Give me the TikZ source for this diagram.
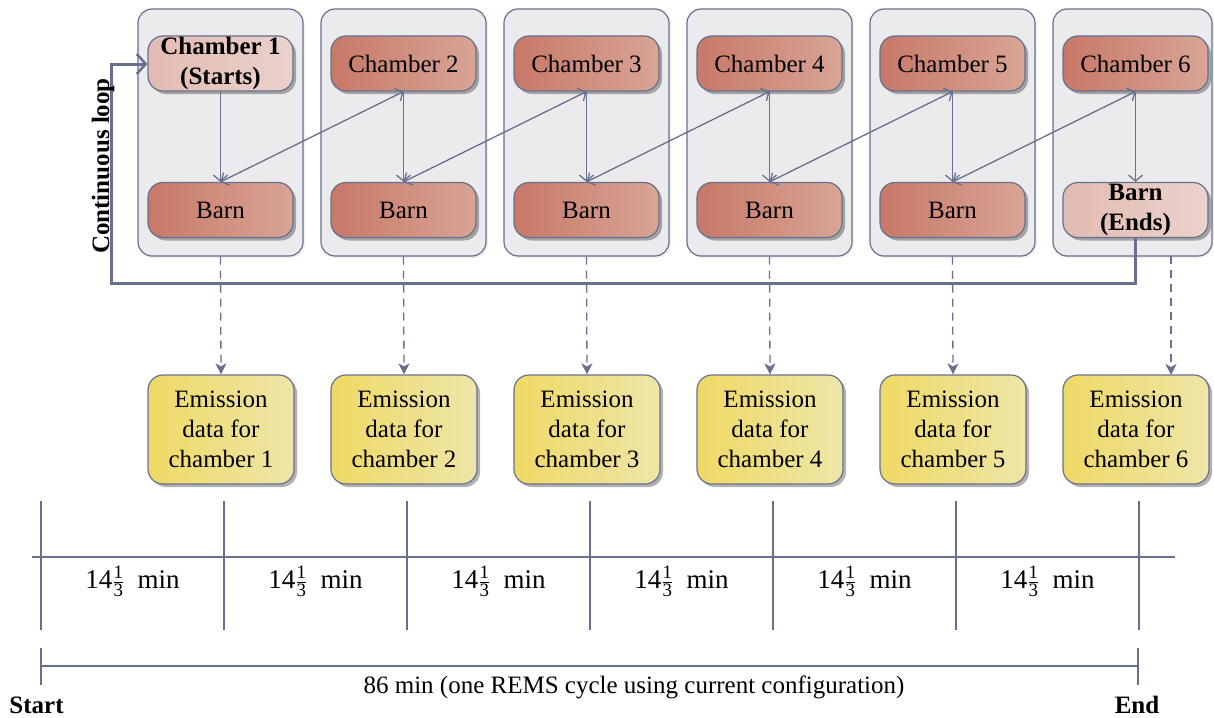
\documentclass[tikz,border=0pt]{standalone}
\usepackage{fontspec}
\setmainfont{LiberationSerif}[Extension=.ttf, UprightFont=*-Regular, BoldFont=*-Bold, ItalicFont=*-Italic, BoldItalicFont=*-BoldItalic]
\usetikzlibrary{arrows.meta,shadows,calc}
\definecolor{linec}{HTML}{67708F}
\definecolor{grpfill}{HTML}{EBEAEC}
\definecolor{chamA}{HTML}{C87868}
\definecolor{chamB}{HTML}{D8A596}
\definecolor{lightA}{HTML}{E2BBB2}
\definecolor{lightB}{HTML}{EAD2CC}
\definecolor{emA}{HTML}{EFD965}
\definecolor{emB}{HTML}{EDE6A8}
\begin{document}
\begin{tikzpicture}[x=1pt,y=-1pt,
  every node/.style={font=\fontsize{25}{30}\selectfont, align=center, inner sep=0pt},
  grp/.style={draw=linec, line width=1.2pt, rounded corners=14pt, fill=grpfill,
    minimum width=165pt, minimum height=247pt,
    drop shadow={shadow xshift=2pt,shadow yshift=-2pt,opacity=0.12}},
  chbox/.style={draw=linec, line width=1.2pt, rounded corners=15pt,
    left color=chamA, right color=chamB, minimum width=145pt, minimum height=55pt,
    drop shadow={shadow xshift=3pt,shadow yshift=-3pt,opacity=0.3,fill=black}},
  lightbox/.style={chbox, left color=lightA, right color=lightB,
    font=\fontsize{25}{30}\selectfont\bfseries},
  embox/.style={draw=linec, line width=1.2pt, rounded corners=15pt,
    left color=emA, right color=emB, minimum width=146pt, minimum height=109pt,
    drop shadow={shadow xshift=3pt,shadow yshift=-3pt,opacity=0.3,fill=black}},
  conn/.style={draw=linec, line width=1.3pt},
  vtip/.style={-{Straight Barb[length=6pt,width=14pt]}},
  bitip/.style={{Straight Barb[length=6pt,width=14pt]}-{Straight Barb[length=6pt,width=14pt]}},
  dasharr/.style={draw=linec, line width=1.3pt, dash pattern=on 8pt off 6pt,
    -{Stealth[length=11pt,width=11pt,inset=3pt]}},
  loopline/.style={draw=linec, line width=3pt,
    -{Straight Barb[length=9pt,width=20pt,line width=2.5pt]}},
  tl/.style={draw=linec, line width=1.4pt},
  bold/.style={font=\fontsize{25}{30}\selectfont\bfseries},
  minlab/.style={font=\fontsize{27}{30}\selectfont}
]
\useasboundingbox (0,0) rectangle (1214,717);

% groups
\foreach \i in {1,...,5} {
  \node[grp] (g\i) at ({220.5+183*(\i-1)},132.5) {};
}
\node[grp, minimum width=159pt] (g6) at (1132.5,132.5) {};

% chambers and barns
\node[lightbox] (c1) at (220.5,63.5) {Chamber 1\\(Starts)};
\foreach \i in {2,...,6} {
  \node[chbox] (c\i) at ({220.5+183*(\i-1)},63.5) {Chamber \i};
}
\foreach \i in {1,...,5} {
  \node[chbox] (b\i) at ({220.5+183*(\i-1)},210) {Barn};
}
\node[lightbox] (b6) at (1135.5,210) {Barn\\(Ends)};

% emission boxes
\foreach \i in {1,...,6} {
  \node[embox] (e\i) at ({221+183*(\i-1)},429.5) {Emission\\data for\\chamber \i};
}

% connectors
\foreach \i in {1,...,6} {
  \draw[conn,vtip] (c\i.south) -- (b\i.north);
}
\foreach \i/\j in {1/2,2/3,3/4,4/5,5/6} {
  \draw[conn,bitip] (b\i.north) -- (c\j.south);
}
\foreach \i in {1,...,5} {
  \draw[dasharr] (g\i.south) -- (e\i.north);
}
\coordinate (d6a) at (1171,256);
\coordinate (d6b) at (1171,375);
\draw[dasharr] (d6a) -- (d6b);

% continuous loop
\coordinate (lbl) at (111,283);
\coordinate (ltl) at (111,64);
\draw[loopline] (b6.south) -- (b6.south |- lbl) -- (lbl) -- (ltl) -- (ltl -| c1.west);
\node[bold, rotate=90] (looplabel) at (103,166) {Continuous loop};

% timeline
\draw[tl] (32,557) -- (1175,557);
\foreach \k in {0,...,6} {
  \draw[tl] ({41+183*\k},501) -- ({41+183*\k},630);
}
\foreach \k in {0,...,5} {
  \node[minlab, anchor=base] (lab\k) at ({132.5+183*\k},588) {14$\frac{\mathrm{1}}{\mathrm{3}}$\ \ min};
}
\draw[tl] (41,648) -- (41,685);
\draw[tl] (41,666) -- (1138,666);
\draw[tl] (1138,648) -- (1138,685);
\node[anchor=base] (cycle) at (634,693) {86 min (one REMS cycle using current configuration)};
\node[bold, anchor=base] (start) at (36.5,713) {Start};
\node[bold, anchor=base] (end) at (1137,713) {End};
\end{tikzpicture}
\end{document}
